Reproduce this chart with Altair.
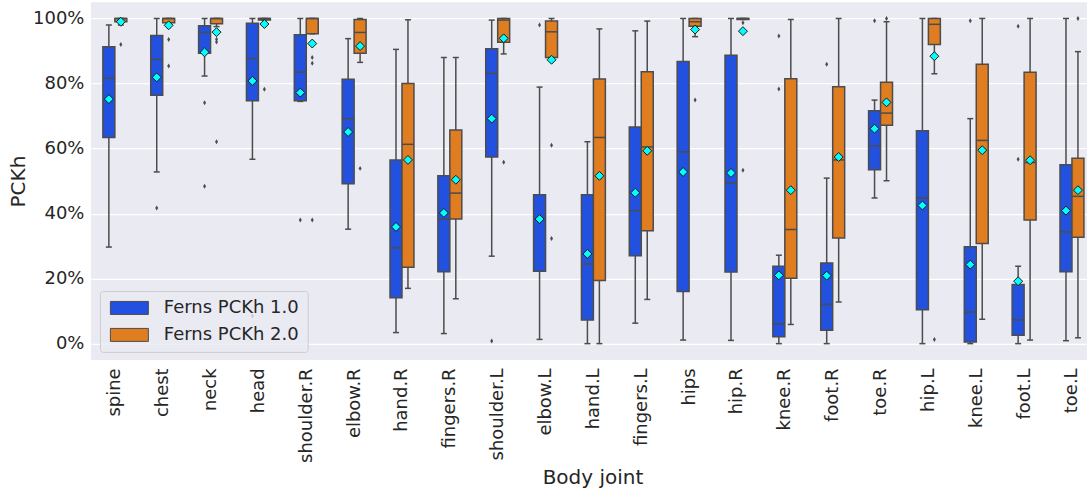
import json
import altair as alt
import pandas as pd

joints = ["spine", "chest", "neck", "head", "shoulder.R", "elbow.R", "hand.R",
          "fingers.R", "shoulder.L", "elbow.L", "hand.L", "fingers.L", "hips",
          "hip.R", "knee.R", "foot.R", "toe.R", "hip.L", "knee.L", "foot.L", "toe.L"]
series = ["Ferns PCKh 1.0", "Ferns PCKh 2.0"]

# Ferns PCKh 1.0 (percent)
v1_low = [29.7, 52.8, 82.3, 56.7, 74.5, 35.2, 3.4, 3.1, 26.9, 1.3, 0.0, 6.3, 1.1, 1.0, 0.0, 0.0, 44.8, 0.0, 0.0, 0.0, 0.9]
v1_q1 = [63.4, 76.4, 89.3, 74.7, 74.7, 49.2, 14.1, 22.1, 57.4, 22.3, 7.3, 27.0, 16.0, 22.0, 2.1, 4.1, 53.5, 10.4, 0.5, 2.6, 22.1]
v1_med = [81.6, 87.4, 95.7, 87.7, 83.5, 69.2, 29.5, 38.3, 83.1, 38.5, 24.5, 40.9, 59.0, 49.4, 6.1, 12.1, 60.8, 44.8, 9.7, 7.3, 34.4]
v1_q3 = [91.3, 94.8, 97.8, 98.5, 95.0, 81.3, 56.5, 51.6, 90.7, 45.8, 45.8, 66.6, 86.8, 88.7, 23.8, 24.8, 71.6, 65.5, 29.8, 18.2, 55.0]
v1_high = [98.0, 100, 100, 100, 100, 93.8, 90.5, 88.0, 99.5, 78.9, 62.1, 96.2, 100, 100, 27.2, 50.9, 74.9, 100, 69.2, 23.8, 100]
v1_mean = [75.2, 81.9, 89.6, 80.8, 77.2, 65.1, 35.9, 40.2, 69.2, 38.3, 27.6, 46.4, 52.8, 52.5, 21.0, 20.9, 66.1, 42.5, 24.3, 19.2, 40.9]
v1_out = [[], [41.7], [74.1, 48.4], [8.5], [38.0], [], [], [], [0.8], [98.0], [], [], [], [],
          [94.6, 78.3], [85.9], [99.3], [], [99.3], [97.6, 56.7], []]

# Ferns PCKh 2.0 (percent)
v2_low = [98.0, 98.0, 97.5, 99.5, 95.3, 86.5, 17.0, 13.8, 89.1, 88.0, 0.0, 13.6, 94.4, 99.7, 5.9, 12.8, 50.1, 83.0, 7.5, 1.1, 1.8]
v2_q1 = [99.0, 98.7, 98.4, 99.5, 95.3, 89.3, 23.5, 38.3, 92.7, 88.0, 19.4, 34.7, 97.6, 99.7, 20.1, 32.5, 67.2, 92.0, 30.8, 38.0, 32.7]
v2_med = [100, 100, 100, 100, 100, 95.7, 61.3, 46.3, 99.5, 95.9, 63.4, 60.5, 99.0, 100, 35.1, 56.5, 70.9, 98.2, 62.5, 55.7, 45.3]
v2_q3 = [100, 100, 100, 100, 100, 99.7, 80.0, 65.7, 100, 99.2, 81.4, 83.6, 100, 100, 81.5, 79.0, 80.4, 100, 85.9, 83.5, 57.0]
v2_high = [100, 100, 100, 100, 100, 100, 99.6, 88.0, 100, 100, 96.8, 99.2, 100, 100, 99.7, 100, 99.0, 100, 100, 100, 89.8]
v2_mean = [99.0, 97.9, 95.8, 98.3, 92.3, 91.5, 56.5, 50.4, 93.9, 87.3, 51.6, 59.3, 96.6, 96.1, 47.2, 57.4, 74.2, 88.4, 59.5, 56.4, 47.2]
v2_out = [[92.0], [93.5, 85.4], [93.6, 92.8, 62.1], [78.2], [88.0, 86.2, 38.0], [53.9], [], [],
          [55.8], [61.0, 32.3], [], [], [74.9], [98.7, 53.3], [], [], [100], [1.3], [], [], [100]]

colors = ["#2251DF", "#DF7D20"]
line_gray = "#4C4C4C"
text_color = "#262626"
FONT = "DejaVu Sans"

stats = [(v1_low, v1_q1, v1_med, v1_q3, v1_high, v1_mean, v1_out),
         (v2_low, v2_q1, v2_med, v2_q3, v2_high, v2_mean, v2_out)]

box_w = 0.25
rows, out_rows = [], []
for s_idx, (lo, q1, med, q3, hi, mean, outs) in enumerate(stats):
    for i, j in enumerate(joints):
        pos = i + (s_idx - 0.5) * box_w
        rows.append(dict(joint=j, series=series[s_idx], pos=pos,
                         left=pos - box_w / 2, right=pos + box_w / 2,
                         cl=pos - box_w / 4, cr=pos + box_w / 4,
                         lo=lo[i] / 100, q1=q1[i] / 100, med=med[i] / 100,
                         q3=q3[i] / 100, hi=hi[i] / 100, mean=mean[i] / 100))
        for v in outs[i]:
            out_rows.append(dict(joint=j, series=series[s_idx], pos=pos, val=v / 100))

df = pd.DataFrame(rows)
dfo = pd.DataFrame(out_rows)

W, H = 997, 358
band_px = 47.9
x_max = -0.5 + W / band_px

xscale = alt.Scale(domain=[-0.5, x_max], nice=False, zero=False)
yscale = alt.Scale(domain=[-0.05, 1.05], nice=False, zero=False)

label_expr = json.dumps(joints) + "[datum.value]"
xaxis = alt.Axis(values=list(range(len(joints))), labelExpr=label_expr, labelAngle=-90,
                 labelAlign="right", labelBaseline="middle", labelFont=FONT,
                 labelFontSize=18, labelColor=text_color, labelPadding=8,
                 ticks=False, domain=False, grid=False, title="Body joint",
                 titleFont=FONT, titleFontSize=20, titleFontWeight="normal",
                 titleColor=text_color, titlePadding=5, titleX=502, labelOverlap=False)
yaxis = alt.Axis(values=[0, 0.2, 0.4, 0.6, 0.8, 1.0], format=".0%", labelFont=FONT,
                 labelFontSize=18, labelColor=text_color, labelPadding=7,
                 ticks=False, domain=False, grid=True, gridColor="white", gridWidth=1.2,
                 title="PCKh", titleFont=FONT, titleFontSize=20, titleFontWeight="normal",
                 titleColor=text_color, titlePadding=4)


def X(f):
    return alt.X(f + ":Q", scale=xscale, axis=xaxis, title="Body joint")


def Y(f):
    return alt.Y(f + ":Q", scale=yscale, axis=yaxis, title="PCKh")


base = alt.Chart(df)

whisk = base.mark_rule(color=line_gray, strokeWidth=1.5).encode(
    x=X("pos"), y=Y("lo"), y2="hi")
caps_lo = base.mark_rule(color=line_gray, strokeWidth=1.5).encode(
    x=X("cl"), x2="cr", y=Y("lo"))
caps_hi = base.mark_rule(color=line_gray, strokeWidth=1.5).encode(
    x=X("cl"), x2="cr", y=Y("hi"))

legend = alt.Legend(title=None, orient="none", legendX=9, legendY=289,
                    symbolType="M-1,-1L4.846,-1L4.846,1L-1,1Z", symbolSize=169,
                    symbolStrokeColor=line_gray, symbolStrokeWidth=1, symbolOpacity=1,
                    labelFont=FONT, labelFontSize=18, labelColor=text_color,
                    labelOffset=38, padding=8, rowPadding=9,
                    fillColor="rgba(234,234,242,0.8)", strokeColor="#cccccc",
                    cornerRadius=3)

boxes = base.mark_bar(stroke=line_gray, strokeWidth=1.5, opacity=1).encode(
    x=X("left"), x2="right", y=Y("q1"), y2="q3",
    fill=alt.Fill("series:N", scale=alt.Scale(domain=series, range=colors), legend=legend))

medians = base.mark_rule(color=line_gray, strokeWidth=1.5).encode(
    x=X("left"), x2="right", y=Y("med"))

fliers = alt.Chart(dfo).mark_point(shape="M0,-1L0.6,0L0,1L-0.6,0Z", size=25, filled=True,
                                   color=line_gray, opacity=1).encode(
    x=X("pos"), y=Y("val"))

means = base.mark_point(shape="diamond", size=80, filled=True, fill="#00FFFF",
                        stroke="#1a1a1a", strokeWidth=1, opacity=1).encode(
    x=X("pos"), y=Y("mean"))

chart = alt.layer(whisk, caps_lo, caps_hi, boxes, medians, fliers, means).properties(
    width=W, height=H,
    padding={"left": 8, "top": 2, "right": 0, "bottom": 0},
    background="white",
).configure_view(fill="#EAEAF2", strokeWidth=0)

chart.save("out.html", embed_options={"renderer": "svg", "actions": False})
